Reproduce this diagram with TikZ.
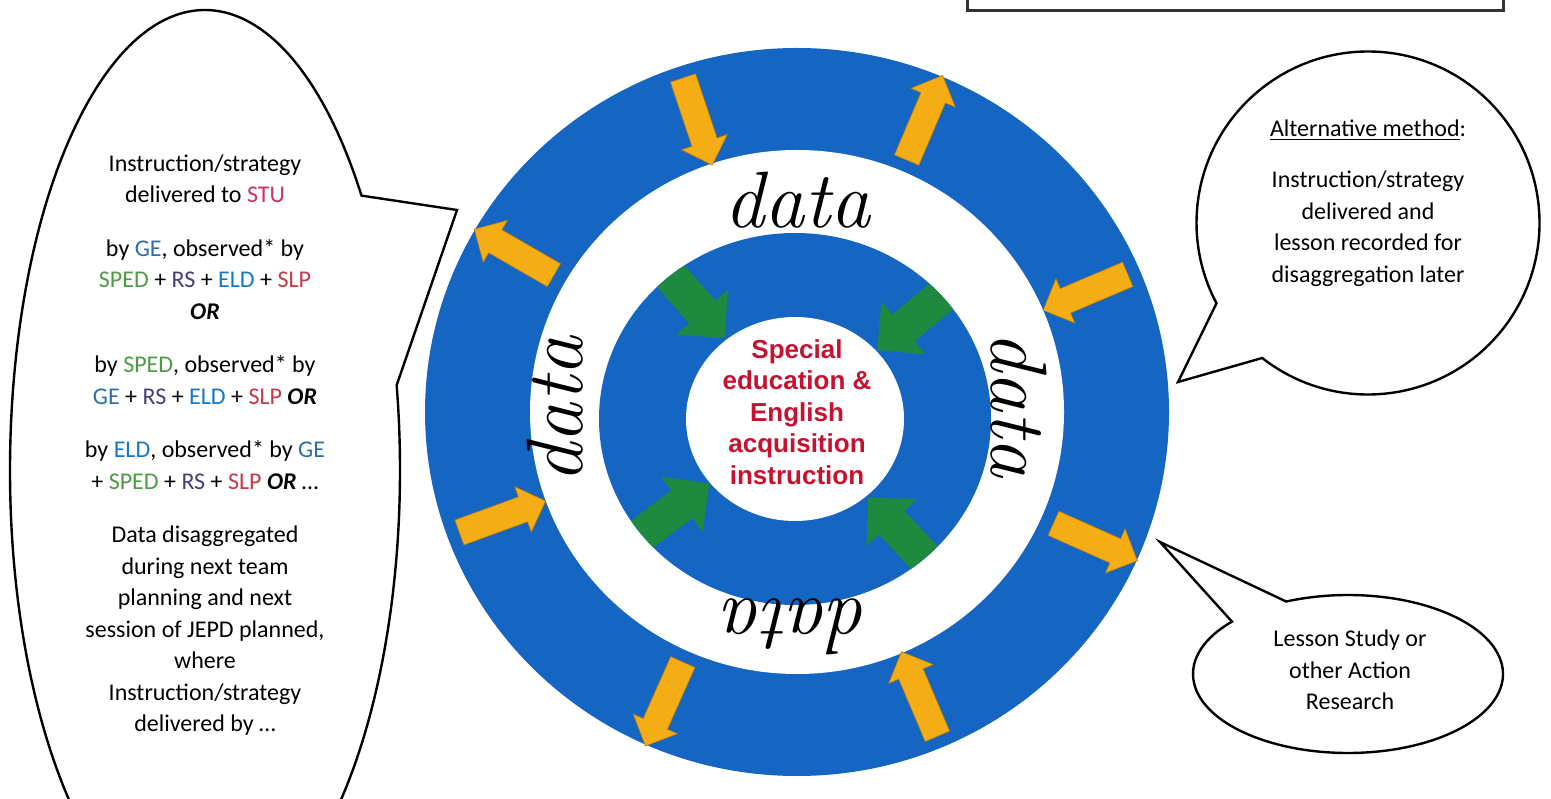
\documentclass[tikz,border=0pt]{standalone}
\usepackage{fontspec}
\usepackage{tikz}
\usetikzlibrary{shapes.arrows,shapes.callouts,calc,positioning}
\setmainfont{Carlito}
\newfontfamily\arialfont{Liberation Sans}
\newcommand{\handfont}{\fontfamily{lmr}\itshape\selectfont}

\definecolor{ringblue}{HTML}{1565C3}
\definecolor{arrowyellow}{HTML}{F5AD16}
\definecolor{arrowgreen}{HTML}{1F8A3F}
\definecolor{hubred}{HTML}{C4122F}
\definecolor{gecol}{HTML}{2F6EA5}
\definecolor{spedcol}{HTML}{4F9A45}
\definecolor{rscol}{HTML}{483E7A}
\definecolor{eldcol}{HTML}{1577C8}
\definecolor{slpcol}{HTML}{C23A48}
\definecolor{stucol}{HTML}{D0305F}

\newcommand{\GE}{\textcolor{gecol}{GE}}
\newcommand{\SPED}{\textcolor{spedcol}{SPED}}
\newcommand{\RS}{\textcolor{rscol}{RS}}
\newcommand{\ELD}{\textcolor{eldcol}{ELD}}
\newcommand{\SLP}{\textcolor{slpcol}{SLP}}
\newcommand{\OR}{\textbf{\textit{OR}}}

\tikzstyle{blockarrow}=[
  single arrow, outer sep=0pt, single arrow tip angle=90
]
\tikzstyle{ringarrow}=[
  blockarrow, fill=arrowyellow, draw=arrowyellow!70!black, line width=0.3pt,
  inner sep=6.5pt, single arrow head extend=5.5pt, minimum height=46pt
]
\tikzstyle{hubarrow}=[
  blockarrow, fill=arrowgreen, inner sep=8.5pt, single arrow head extend=8.5pt,
  minimum height=50pt
]
\tikzstyle{datalabel}=[
  font=\handfont\fontsize{40}{42}\selectfont, inner sep=0pt
]
\tikzstyle{bubble}=[
  ellipse callout, draw, line width=1.2pt, fill=white, inner sep=0pt, outer sep=0pt
]
\tikzstyle{bubbletext}=[
  align=center, font=\fontsize{12}{15.75}\selectfont
]

\begin{document}
\begin{tikzpicture}[x=0.5pt,y=0.5pt]
  \useasboundingbox (0,0) rectangle (1551,798);
  \clip (0,0) rectangle (1551,798);
  \fill[white] (0,0) rectangle (1551,798);

  \coordinate (ring) at (797,386);
  \coordinate (hub) at (795,379);

  % rings
  \fill[ringblue] (ring) ellipse [x radius=372, y radius=364];
  \fill[white] (ring) ellipse [x radius=267, y radius=262];
  \fill[ringblue] (hub) ellipse [x radius=196, y radius=186];

  % arrows on the outer ring
  \node (y1) [ringarrow, rotate=288.5] at ($(ring)+(108.5:320 and 313)$) {};
  \node (y2) [ringarrow, rotate=67] at ($(ring)+(67:320 and 313)$) {};
  \node (y3) [ringarrow, rotate=203] at ($(ring)+(23:320 and 313)$) {};
  \node (y4) [ringarrow, rotate=-24] at ($(ring)+(-24:320 and 313)$) {};
  \node (y5) [ringarrow, rotate=113] at ($(ring)+(-67:320 and 313)$) {};
  \node (y6) [ringarrow, rotate=-114] at ($(ring)+(-114:320 and 313)$) {};
  \node (y7) [ringarrow, rotate=20] at ($(ring)+(200:320 and 313)$) {};
  \node (y8) [ringarrow, rotate=150] at ($(ring)+(150:320 and 313)$) {};

  % arrows towards the hub
  \begin{scope}
    \clip (hub) ellipse [x radius=196, y radius=186];
    \node (g1) [hubarrow, rotate=311] at ($(hub)+(131:166)$) {};
    \node (g2) [hubarrow, rotate=220] at ($(hub)+(40:166)$) {};
    \node (g3) [hubarrow, rotate=37] at ($(hub)+(217:166)$) {};
    \node (g4) [hubarrow, rotate=133] at ($(hub)+(313:166)$) {};
  \end{scope}

  \fill[white] (hub) ellipse [x radius=109, y radius=102];
  \node (hubtext) [align=center, text=hubred,
    font=\arialfont\bfseries\fontsize{13}{15.75}\selectfont] at (797,386)
    {Special\\education \&\\English\\acquisition\\instruction};

  \node (dtop) [datalabel] at (797,598) {data};
  \node (dleft) [datalabel, rotate=90] at (555,388) {data};
  \node (dright) [datalabel, rotate=-90] at (1019,393) {data};
  \node (dbottom) [datalabel, rotate=180] at (797,171) {data};

  % callouts
  \coordinate (lefttip) at (457,588);
  \coordinate (alttip) at (1178,416);
  \coordinate (lstip) at (1160,256);
  \node (leftbubble) [bubble, minimum width=195pt, minimum height=460pt,
    callout absolute pointer={(lefttip)}, callout pointer arc=26] at (205,328) {};
  \node (altbubble) [bubble, minimum width=171.5pt, minimum height=171.5pt,
    callout absolute pointer={(alttip)}, callout pointer arc=24] at (1368,575) {};
  \node (lsbubble) [bubble, minimum width=155pt, minimum height=79pt,
    callout absolute pointer={(lstip)}, callout pointer arc=25] at (1348,124) {};

  \node (lefttext) [bubbletext] at (205,353) {%
    Instruction/strategy\\delivered to \textcolor{stucol}{STU}\\[11pt]
    by \GE, observed* by\\\SPED{} + \RS{} + \ELD{} + \SLP\\\OR\\[11pt]
    by \SPED, observed* by\\\GE{} + \RS{} + \ELD{} + \SLP{} \OR\\[11pt]
    by \ELD, observed* by \GE\\+ \SPED{} + \RS{} + \SLP{} \OR{} …\\[11pt]
    Data disaggregated\\during next team\\planning and next\\session of JEPD planned,\\
    where\\Instruction/strategy\\delivered by …};
  \node (alttext) [bubbletext] at (1368,595) {%
    \underline{Alternative method}:\\[10pt]
    Instruction/strategy\\delivered and\\lesson recorded for\\disaggregation later};
  \node (lstext) [bubbletext] at (1350,128) {Lesson Study or\\other Action\\Research};

  % frame running off the top edge
  \draw[line width=1.5pt, black!80] (967,787) rectangle (1503,830);
\end{tikzpicture}
\end{document}
